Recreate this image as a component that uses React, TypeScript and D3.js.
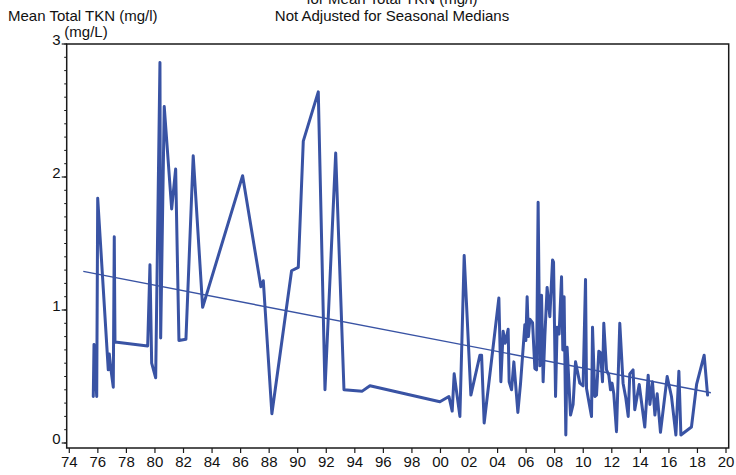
import React from "react";
import * as d3 from "d3";

const years: number[] = [
  1975.68, 1975.73, 1975.92, 1975.99, 1976.73, 1976.8, 1976.92, 1977.08, 1977.15, 1977.2,
  1979.49, 1979.65, 1979.77, 1980.05, 1980.35, 1980.4, 1980.65, 1981.17, 1981.45, 1981.68,
  1982.17, 1982.68, 1983.34, 1986.14, 1987.42, 1987.59, 1988.19, 1989.57, 1990.04, 1990.39,
  1991.44, 1991.91, 1992.66, 1993.24, 1994.52, 1995.06, 1999.96, 2000.59, 2000.82, 2000.96,
  2001.36, 2001.66, 2002.13, 2002.76, 2002.88, 2003.06, 2004.09, 2004.23, 2004.39, 2004.53,
  2004.74, 2004.81, 2004.98, 2005.14, 2005.42, 2005.61, 2005.91, 2005.98, 2006.07, 2006.16,
  2006.26, 2006.45, 2006.61, 2006.73, 2006.84, 2006.96, 2007.08, 2007.19, 2007.31, 2007.47,
  2007.66, 2007.85, 2007.92, 2008.06, 2008.17, 2008.31, 2008.48, 2008.57, 2008.66, 2008.78,
  2008.87, 2009.11, 2009.29, 2009.46, 2009.76, 2009.99, 2010.16, 2010.23, 2010.58, 2010.65,
  2010.81, 2010.93, 2011.09, 2011.21, 2011.35, 2011.44, 2011.63, 2011.79, 2011.91, 2012.02,
  2012.14, 2012.33, 2012.56, 2012.79, 2012.98, 2013.15, 2013.26, 2013.49, 2013.61, 2013.92,
  2014.31, 2014.55, 2014.67, 2014.85, 2015.02, 2015.18, 2015.41, 2015.88, 2016.18, 2016.49,
  2016.7, 2016.84, 2017.58, 2017.94, 2018.47, 2018.71,
];

const values: number[] = [
  0.35, 0.74, 0.35, 1.84, 0.55, 0.67, 0.55, 0.42, 1.55, 0.76,
  0.73, 1.34, 0.6, 0.49, 2.86, 0.79, 2.53, 1.76, 2.06, 0.77,
  0.78, 2.16, 1.02, 2.01, 1.175, 1.22, 0.22, 1.295, 1.32, 2.27,
  2.64, 0.4, 2.18, 0.4, 0.39, 0.43, 0.31, 0.35, 0.24, 0.52,
  0.2, 1.41, 0.36, 0.66, 0.66, 0.15, 1.09, 0.46, 0.84, 0.75,
  0.855, 0.46, 0.4, 0.61, 0.23, 0.45, 0.89, 0.77, 1.1, 0.8,
  0.93, 0.905, 0.56, 0.55, 1.81, 0.58, 1.11, 0.46, 0.8, 1.17,
  0.95, 1.376, 1.36, 0.35, 0.87, 0.82, 1.25, 0.7, 1.1, 0.06,
  0.72, 0.21, 0.29, 0.61, 0.45, 0.43, 1.23, 0.41, 0.2, 0.87,
  0.35, 0.36, 0.69, 0.68, 0.46, 0.9, 0.55, 0.51, 0.4, 0.45,
  0.37, 0.085, 0.9, 0.45, 0.34, 0.2, 0.52, 0.55, 0.25, 0.44,
  0.12, 0.51, 0.29, 0.46, 0.21, 0.37, 0.08, 0.5, 0.35, 0.06,
  0.54, 0.06, 0.12, 0.44, 0.66, 0.36,
];

const trendYears: number[] = [1974.98, 2018.94];
const trendValues: number[] = [1.29, 0.378];

const xTickYears: number[] = d3.range(1974, 2021, 2);
const yMajorTicks: number[] = [0, 1, 2, 3];
const yMinorTicks: number[] = d3.range(0, 31).map((d) => d / 10);

const titleLines: string[] = ["for Mean Total TKN (mg/l)", "Not Adjusted for Seasonal Medians"];
const yLabelLines: string[] = ["Mean Total TKN (mg/l)", "(mg/L)"];

const COLOR = "#3953a4";
const FONT = "'Liberation Sans', Arial, sans-serif";

export default function App() {
  const W = 736;
  const H = 475;
  const x = d3.scaleLinear().domain([1974, 2020]).range([69.3, 726]);
  const y = d3.scaleLinear().domain([0, 3]).range([443, 44]);
  const frameLeft = 66.7;
  const frameRight = 728.7;
  const frameTop = 44;
  const frameBottom = 448;

  const pts: [number, number][] = years.map((yr, i) => [yr, values[i]]);
  const line = d3
    .line<[number, number]>()
    .x((d) => x(d[0]))
    .y((d) => y(d[1]));
  const trendPts: [number, number][] = trendYears.map((yr, i) => [yr, trendValues[i]]);

  const fmtYear = (yr: number) => String(yr % 100).padStart(2, "0");

  return (
    <svg
      width={W}
      height={H}
      style={{ position: "absolute", left: 0, top: 0, background: "#fff" }}
      fontFamily={FONT}
    >
      <rect x={0} y={0} width={W} height={H} fill="#fff" />
      {/* titles */}
      <text x={392} y={4} textAnchor="middle" fontSize={15} fill="#111">
        {titleLines[0]}
      </text>
      <text x={392} y={21} textAnchor="middle" fontSize={15} fill="#111">
        {titleLines[1]}
      </text>
      <text x={8} y={21} textAnchor="start" fontSize={15} fill="#111">
        {yLabelLines[0]}
      </text>
      <text x={86} y={37} textAnchor="middle" fontSize={15} fill="#111">
        {yLabelLines[1]}
      </text>

      {/* data line */}
      <path
        d={line(pts) || ""}
        fill="none"
        stroke={COLOR}
        strokeWidth={3}
        strokeLinejoin="round"
        strokeLinecap="round"
      />
      {/* trend */}
      <path d={line(trendPts) || ""} fill="none" stroke={COLOR} strokeWidth={1.4} />

      {/* frame */}
      <rect
        x={frameLeft}
        y={frameTop}
        width={frameRight - frameLeft}
        height={frameBottom - frameTop}
        fill="none"
        stroke="#1a1a1a"
        strokeWidth={1.5}
      />

      {/* x ticks */}
      {xTickYears.map((yr) => (
        <g key={yr}>
          <line x1={x(yr)} x2={x(yr)} y1={frameBottom} y2={frameBottom + 5} stroke="#1a1a1a" strokeWidth={1.2} />
          <text x={x(yr)} y={467} textAnchor="middle" fontSize={15} fill="#111">
            {fmtYear(yr)}
          </text>
        </g>
      ))}

      {/* y ticks */}
      {yMinorTicks.map((v) => (
        <line key={"m" + v} x1={frameLeft - 2.5} x2={frameLeft} y1={y(v)} y2={y(v)} stroke="#1a1a1a" strokeWidth={1} />
      ))}
      {yMajorTicks.map((v) => (
        <g key={"M" + v}>
          <line x1={frameLeft - 5} x2={frameLeft} y1={y(v)} y2={y(v)} stroke="#1a1a1a" strokeWidth={1.2} />
          <text x={frameLeft - 6} y={y(v) + 1} textAnchor="end" fontSize={15} fill="#111">
            {v}
          </text>
        </g>
      ))}
    </svg>
  );
}
